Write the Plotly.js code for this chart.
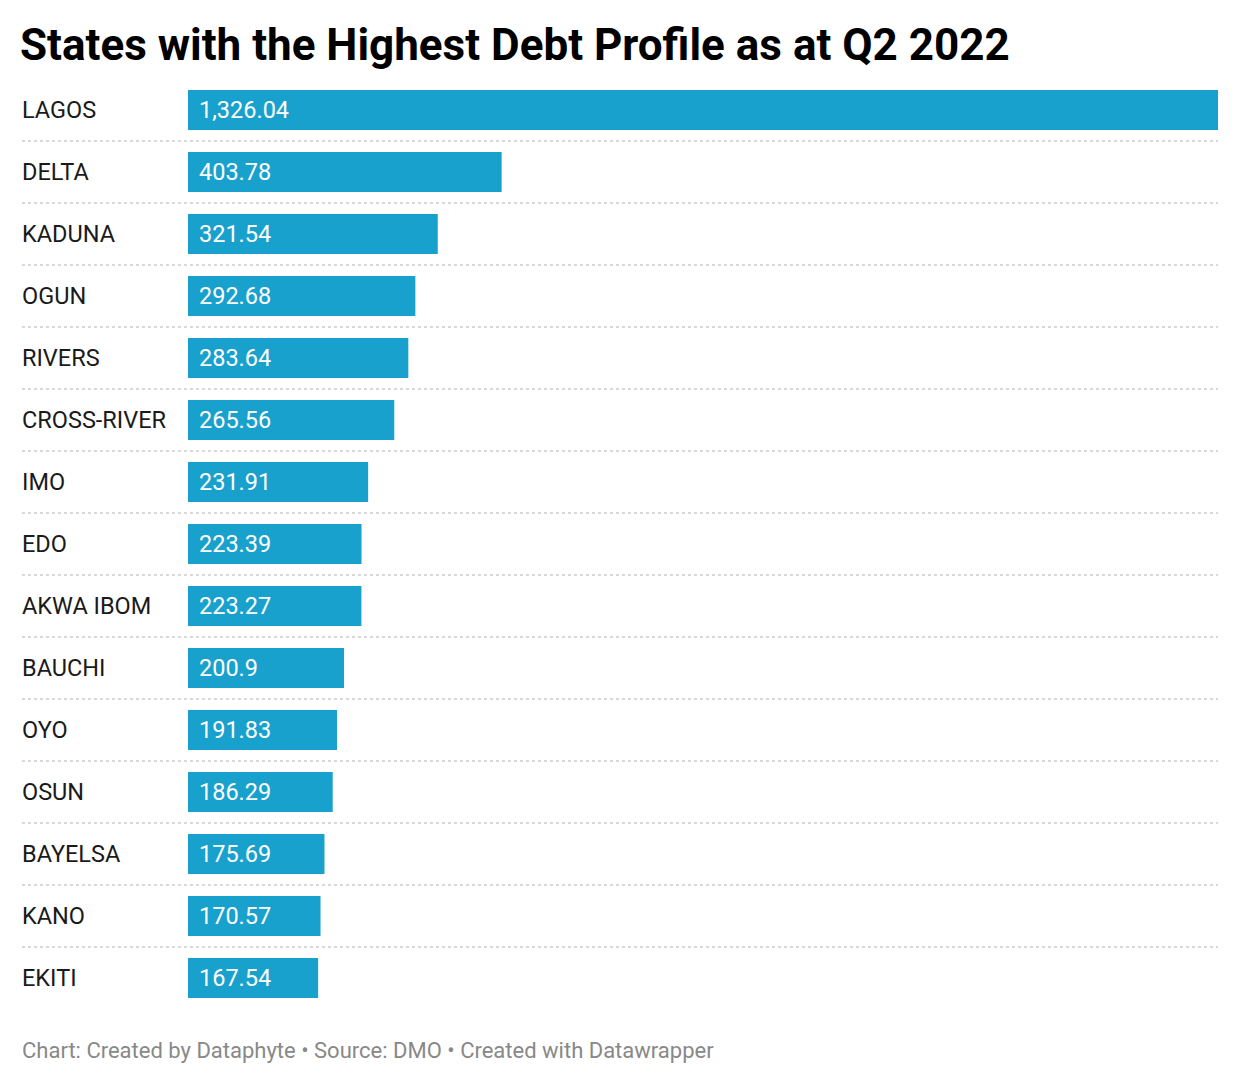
<!DOCTYPE html>
<html><head><meta charset="utf-8">
<script src="https://cdn.plot.ly/plotly-3.0.1.min.js"></script>
<style>html,body{margin:0;padding:0;background:#fff;}#chart{width:1240px;height:1084px;}</style>
</head><body><div id="chart"></div>
<script>
const states = ["LAGOS","DELTA","KADUNA","OGUN","RIVERS","CROSS-RIVER","IMO","EDO","AKWA IBOM","BAUCHI","OYO","OSUN","BAYELSA","KANO","EKITI"];
const debt = [1326.04,403.78,321.54,292.68,283.64,265.56,231.91,223.39,223.27,200.9,191.83,186.29,175.69,170.57,167.54];
const valueLabels = ["1,326.04","403.78","321.54","292.68","283.64","265.56","231.91","223.39","223.27","200.9","191.83","186.29","175.69","170.57","167.54"];

const W = 1240, H = 1084;
const mL = 188, mR = 22, mT = 79, mB = 75;
const plotW = W - mL - mR;
const labelX = (22 - mL) / plotW;
const font = "Roboto, 'Noto Sans', sans-serif";

const annotations = [];
const shapes = [];
states.forEach((s, i) => {
  annotations.push({xref:'paper', yref:'y', x: labelX, y: s, xanchor:'left', yanchor:'middle', xshift:-2,
    text: s, showarrow:false, font:{family:font, size:23.5, color:'#1a1a1a'}});
  annotations.push({xref:'x', yref:'y', x: 0, y: s, xanchor:'left', yanchor:'middle', xshift: 9,
    text: valueLabels[i], showarrow:false, font:{family:font, size:23.5, color:'#ffffff'}});
  if (i < states.length - 1) {
    shapes.push({type:'line', xref:'paper', yref:'y', x0: labelX, x1: 1, y0: i + 0.5, y1: i + 0.5,
      line:{color:'#cccccc', width:1.5, dash:'dot'}, layer:'below'});
  }
});
annotations.push({xref:'paper', yref:'paper', x: labelX, y: -(1050 - (H - mB)) / (H - mT - mB), xanchor:'left', yanchor:'middle', xshift:-2,
  text: "Chart: Created by Dataphyte • Source: DMO • Created with Datawrapper", showarrow:false,
  font:{family:font, size:22, color:'#888888'}});

const data = [{
  type:'bar', orientation:'h', x: debt, y: states,
  marker:{color:'#18a1cd'}, hoverinfo:'x+y'
}];

const layout = {
  width: W, height: H,
  margin:{l:mL, r:mR, t:mT, b:mB, pad:0},
  paper_bgcolor:'#fff', plot_bgcolor:'#fff',
  bargap: 22/62,
  title:{text:"<b>States with the Highest Debt Profile as at Q2 2022</b>", xref:'container', yref:'container',
    x: 20/W, xanchor:'left', y: 1 - 45/H, yanchor:'middle',
    font:{family:font, size:44, color:'#000'}},
  xaxis:{range:[0, 1326.04], visible:false, fixedrange:true},
  yaxis:{type:'category', range:[14.5, -0.5], showticklabels:false, showgrid:false, zeroline:false, showline:false, ticks:''},
  annotations, shapes, showlegend:false
};
Plotly.newPlot('chart', data, layout, {displayModeBar:false, staticPlot:true});
</script></body></html>
